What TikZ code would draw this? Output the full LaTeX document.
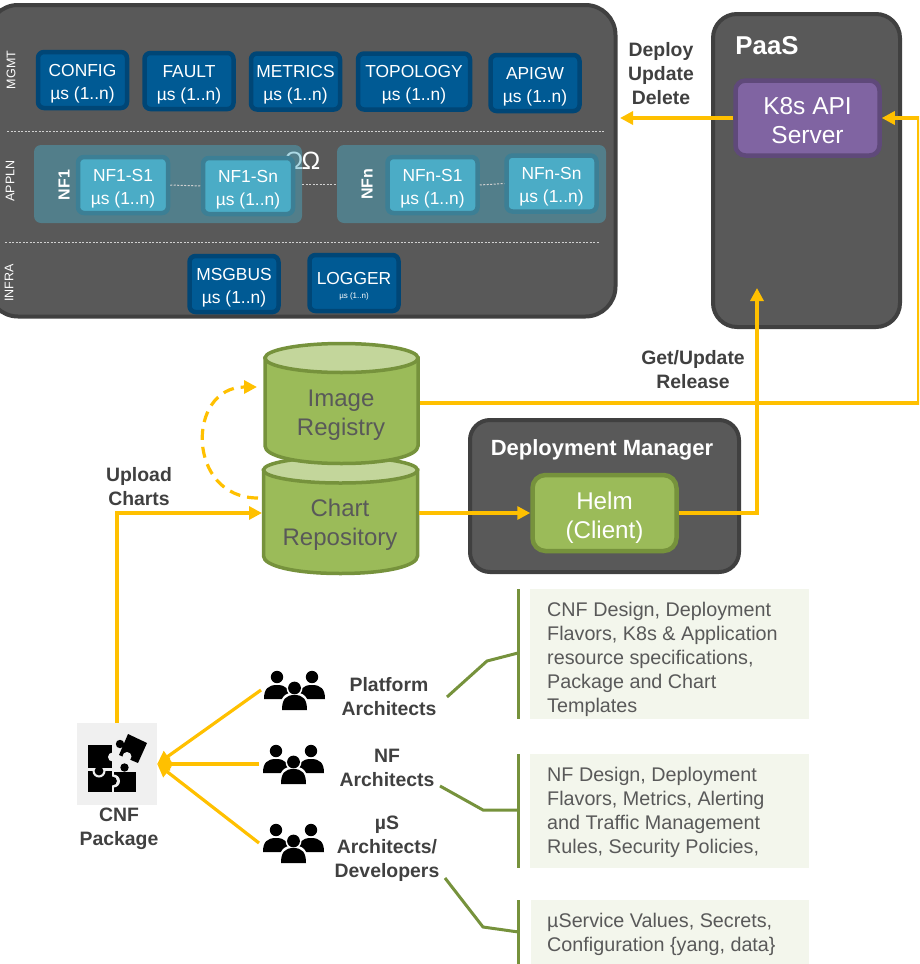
\documentclass[tikz,border=0pt]{standalone}
\usepackage{fontspec}
\setmainfont{Liberation Sans}
\usetikzlibrary{arrows.meta}
\definecolor{dkfill}{HTML}{595959}
\definecolor{dkline}{HTML}{404040}
\definecolor{navy}{HTML}{005A94}
\definecolor{navyline}{HTML}{004676}
\definecolor{teal}{HTML}{4BACC6}
\definecolor{tealline}{HTML}{3C7F95}
\definecolor{amber}{HTML}{FFC000}
\definecolor{leaf}{HTML}{9BBB59}
\definecolor{leaftop}{HTML}{C3D69B}
\definecolor{leafline}{HTML}{76923C}
\definecolor{plum}{HTML}{8064A2}
\definecolor{plumline}{HTML}{5F497A}
\definecolor{pale}{HTML}{F3F6EC}
\definecolor{puzzlebg}{HTML}{F0F0F0}
\newcommand{\fs}[1]{\fontsize{#1}{#1}\selectfont}
\newcommand{\tr}{\rule{0pt}{19.5pt}}
\tikzset{
  panel/.style={draw=dkline,fill=dkfill,line width=4pt,rounded corners=24pt},
  svc/.style={draw=navyline,fill=navy,line width=4.5pt,rounded corners=6pt,text=white,align=center,inner sep=0pt,
    font=\fontsize{17.4}{23}\selectfont,minimum width=89pt,minimum height=56pt},
  sub/.style={draw=tealline,fill=teal,line width=4.5pt,rounded corners=6pt,text=white,align=center,inner sep=0pt,
    font=\fontsize{17.4}{23}\selectfont,minimum width=90pt,minimum height=56pt},
  band/.style={fill=teal,fill opacity=.45,rounded corners=7pt},
  sep/.style={draw=white!72!dkfill,line width=1pt,dash pattern=on 2pt off 1.5pt},
  side/.style={text=white,rotate=90,font=\fs{12.5},inner sep=0pt},
  nfname/.style={text=white,rotate=90,font=\bfseries\fs{16},inner sep=0pt},
  arr/.style={draw=amber,line width=3.2pt,-{Triangle[length=13pt,width=13pt,fill=amber]}},
  boldcap/.style={text=dkline,align=center,inner sep=0pt,font=\bfseries\fontsize{19.4}{24}\selectfont},
  can/.style={draw=leafline,fill=leaf,line width=3.5pt},
  cantop/.style={draw=leafline,fill=leaftop,line width=3.5pt},
  cantext/.style={text=dkfill,align=center,inner sep=0pt,font=\fontsize{24}{29.3}\selectfont},
  anchorbox/.style={inner sep=0pt,outer sep=0pt},
  greenl/.style={draw=leafline,line width=3pt},
  note/.style={text=dkfill,align=left,anchor=north west,inner sep=0pt,font=\fontsize{19.75}{23.9}\selectfont},
}
\newcommand{\peoplepic}[2]{%
  \begin{scope}[shift={(#1,#2)}]
    \fill (13,6) circle (6.2);
    \fill (48,6) circle (6.2);
    \fill (0,28) .. controls (0,18) and (4,14) .. (13,14) .. controls (22,14) and (26,18) .. (26,28) -- cycle;
    \fill (35,28) .. controls (35,18) and (39,14) .. (48,14) .. controls (57,14) and (61,18) .. (61,28) -- cycle;
    \fill[white] (30.5,17) circle (8);
    \fill[white] (16,39) .. controls (16,26) and (21,21.5) .. (30.5,21.5) .. controls (40,21.5) and (45,26) .. (45,39) -- cycle;
    \fill (30.5,17) circle (6.4);
    \fill (18,39) .. controls (18,28) and (22,24) .. (30.5,24) .. controls (39,24) and (43,28) .. (43,39) -- cycle;
  \end{scope}}
\begin{document}
\begin{tikzpicture}[x=1pt,y=-1pt]
\useasboundingbox (0,0) rectangle (919,964);
% ---- main platform
\path[clip] (0,0) rectangle (919,964);
\draw[panel,rounded corners=30pt] (-12,5) rectangle (615.5,316.5);
\node[text=white,inner sep=0pt,font=\fs{25}] (omegaA) at (294,161) {Ω};
\node[band,minimum width=268pt,minimum height=78pt,inner sep=0pt] (nf1band) at (168,184) {};
\node[band,minimum width=269pt,minimum height=78pt,inner sep=0pt] (nfnband) at (471.5,184) {};
\node[text=white,inner sep=0pt,font=\fs{25}] (omegaB) at (311,161) {Ω};
\node[side] (lmgmt) at (11,70) {MGMT};
\node[side] (lappln) at (10,181) {APPLN};
\node[side] (linfra) at (9,283) {INFRA};
\coordinate (sepAl) at (7,131);\coordinate (sepAr) at (605,131);
\coordinate (sepBl) at (5,242);\coordinate (sepBr) at (600,242);
\draw[sep] (sepAl) -- (sepAr);
\draw[sep] (sepBl) -- (sepBr);
\node[svc] (config) at (82.5,80) {\tr CONFIG\\µs (1..n)};
\node[svc] (fault) at (189,81) {\tr FAULT\\µs (1..n)};
\node[svc] (metrics) at (295.5,81.5) {\tr METRICS\\µs (1..n)};
\node[svc,minimum width=112pt] (topology) at (414,81.5) {\tr TOPOLOGY\\µs (1..n)};
\node[svc] (apigw) at (535,83) {\tr APIGW\\µs (1..n)};
\node[nfname] (nf1) at (64,185) {NF1};
\node[nfname] (nfn) at (367,184) {NFn};
\node[sub] (s11) at (123,185) {\tr NF1-S1\\µs (1..n)};
\node[sub] (s1n) at (248,186) {\tr NF1-Sn\\µs (1..n)};
\node[sub] (sn1) at (432.5,185) {\tr NFn-S1\\µs (1..n)};
\node[sub] (snn) at (551.5,183.5) {\tr NFn-Sn\\µs (1..n)};
\draw[sep] (s11.east) -- (s1n.west);
\draw[sep] (nf1band.east) -- (nfnband.west);
\draw[sep] (sn1.east) -- (snn.west);
\node[svc] (msgbus) at (234,284) {\tr MSGBUS\\µs (1..n)};
\node[svc] (logger) at (354,283) {\tr LOGGER\\[-9pt]{\fs{8}µs (1..n)}};
% ---- PaaS
\draw[panel] (713,14) rectangle (900,327);
\node[text=white,inner sep=0pt,font=\bfseries\fs{25.8}] (paas) at (767,46) {PaaS};
\node[draw=plumline,fill=plum,line width=4.5pt,rounded corners=10pt,text=white,align=center,inner sep=0pt,
  font=\fontsize{24.5}{29}\selectfont,minimum width=144pt,minimum height=75pt] (k8s) at (807.5,118) {\rule{0pt}{21.5pt}K8s API\\Server};
\node[boldcap] (deploy) at (661,74) {Deploy\\Update\\Delete};
\coordinate (mgmtedge) at (620,118);
\draw[arr] (k8s.west) -- (mgmtedge);
% ---- cylinders
\draw[can] (263.5,470) -- (263.5,556) .. controls (263.5,566) and (295,573.5) .. (340.5,573.5)
  .. controls (386,573.5) and (417.5,566) .. (417.5,556) -- (417.5,470) -- cycle;
\draw[cantop] (340.5,470) ellipse (77 and 13);
\draw[can] (265,358) -- (265,446) .. controls (265,456) and (296,463.5) .. (341.5,463.5)
  .. controls (387,463.5) and (418,456) .. (418,446) -- (418,358) -- cycle;
\draw[cantop] (341.5,358) ellipse (76.5 and 14.5);
\node[anchorbox,minimum width=156pt,minimum height=122pt] (imgreg) at (341.5,403) {};
\node[anchorbox,minimum width=157pt,minimum height=124pt] (chart) at (340.5,513) {};
\node[cantext] (imgregt) at (341,415.5) {Image\\Registry};
\node[cantext] (chartt) at (340,524.5) {Chart\\Repository};
\coordinate (dashA) at (258,498);\coordinate (dashB) at (257,387);
\draw[draw=amber,line width=3.2pt,dash pattern=on 11pt off 7pt,-{Triangle[length=13pt,width=13pt,fill=amber]}]
  (dashA) .. controls (186,498) and (186,387) .. (dashB);
% ---- deployment manager
\draw[panel,rounded corners=20pt] (470,420) rectangle (739,572);
\node[text=white,inner sep=0pt,font=\bfseries\fs{22}] (dmtitle) at (602,449.5) {Deployment Manager};
\node[draw=leafline,fill=leaf,line width=4.5pt,rounded corners=13pt,text=white,align=center,inner sep=0pt,
  font=\fontsize{24.2}{29}\selectfont,minimum width=144pt,minimum height=76pt] (helm) at (604.5,513) {\rule{0pt}{26pt}Helm\\(Client)};
\draw[arr] (chart.east) -- (helm.west);
\coordinate (paasin) at (757,288);
\coordinate (rightturn) at (918.5,118);
\draw[arr] (helm.east) -| (paasin);
\draw[arr] (imgreg.east) -| (rightturn) -- (k8s.east);
\node[boldcap] (getrel) at (693,370) {Get/Update\\Release};
% ---- package
\node[fill=puzzlebg,minimum width=80pt,minimum height=82pt,inner sep=0pt] (cnf) at (117,764) {};
\fill (114,771.5) rectangle (136,792);
\fill (124.5,767.5) circle (4.2);
\fill[puzzlebg] (113.5,781) circle (6.5);
\fill (88,770.5) rectangle (111.5,792);
\fill (112.5,781) circle (4.4);
\fill[puzzlebg] (99,771) circle (6.5);
\fill (88,745) rectangle (112,768);
\fill (99,771) circle (4.4);
\fill[puzzlebg] (112.5,757) circle (4.5);
\fill (128,734) -- (147,743) -- (138,763) -- (119,755) -- cycle;
\fill (120,744) circle (4.2);
\fill[puzzlebg] (127,756.5) circle (4.5);
\node[boldcap] (cnfl) at (119,829) {CNF\\Package};
\draw[arr] (cnf.north) |- (chart.west);
\node[boldcap] (uploadl) at (139,487) {Upload\\Charts};
% ---- people
\peoplepic{264}{671}
\peoplepic{263}{745}
\peoplepic{263}{824}
\node[anchorbox,minimum width=66pt,minimum height=40pt] (pa) at (294,690) {};
\node[anchorbox,minimum width=70pt,minimum height=40pt] (pb) at (294,764) {};
\node[anchorbox,minimum width=70pt,minimum height=40pt] (pc) at (294,843) {};
\draw[arr] (pa.west) -- (cnf.east);
\draw[arr] (pb.west) -- (cnf.east);
\draw[arr] (pc.west) -- (cnf.east);
\node[boldcap] (ra) at (389,697) {Platform\\Architects};
\node[boldcap] (rb) at (387,768) {NF\\Architects};
\node[boldcap] (rc) at (387,848.5) {µS\\Architects/\\Developers};
% ---- notes
\fill[pale] (530,589) rectangle (809,719);
\fill[pale] (530,754) rectangle (809,868);
\fill[pale] (531,900) rectangle (809,964);
\coordinate (barAt) at (518,589);\coordinate (barAb) at (518,719);
\coordinate (barBt) at (518,754);\coordinate (barBb) at (518,868);
\coordinate (barCt) at (518.5,900);\coordinate (barCb) at (518.5,964);
\draw[greenl] (barAt) -- (barAb);
\draw[greenl] (barBt) -- (barBb);
\draw[greenl] (barCt) -- (barCb);
\coordinate (ga) at (447,697);\coordinate (gaE) at (518,653);
\coordinate (gb) at (440,786);\coordinate (gbE) at (518,810);
\coordinate (gc) at (445,878);\coordinate (gcE) at (518.5,932);
\draw[greenl] (ga) -- (487,661) -- (gaE);
\draw[greenl] (gb) -- (483,810) -- (gbE);
\draw[greenl] (gc) -- (483,927) -- (gcE);
\node[note] (na) at (547,602) {CNF Design, Deployment\\Flavors, K8s \& Application\\resource specifications,\\Package and Chart\\Templates};
\node[note] (nb) at (547,767) {NF Design, Deployment\\Flavors, Metrics, Alerting\\and Traffic Management\\Rules, Security Policies,};
\node[note] (nc) at (547,913) {µService Values, Secrets,\\Configuration \{yang, data\}};
\end{tikzpicture}
\end{document}
